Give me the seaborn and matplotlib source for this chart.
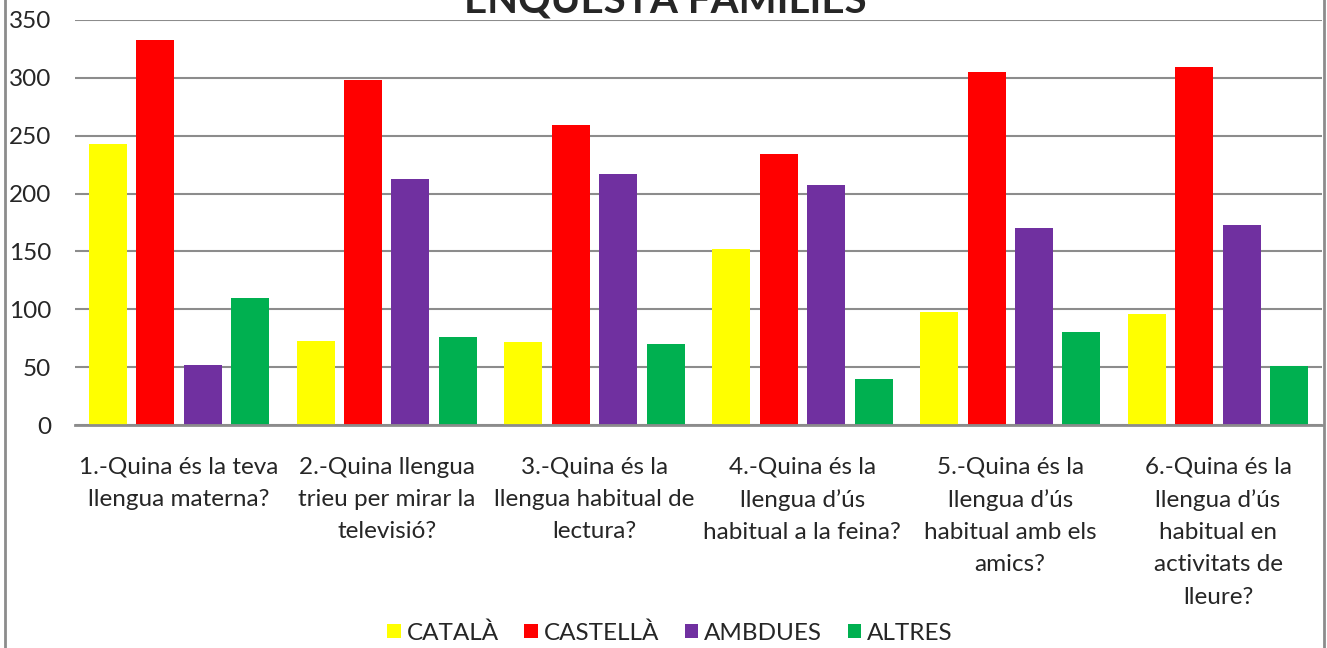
import matplotlib
matplotlib.use('Agg')
import matplotlib.pyplot as plt
from matplotlib.patches import Rectangle
import seaborn as sns
import pandas as pd

# Survey answers per question and language
questions = [
    '1.-Quina és la teva\nllengua materna?',
    '2.-Quina llengua\ntrieu per mirar la\ntelevisió?',
    '3.-Quina és la\nllengua habitual de\nlectura?',
    '4.-Quina és la\nllengua d’ús\nhabitual a la feina?',
    '5.-Quina és la\nllengua d’ús\nhabitual amb els\namics?',
    '6.-Quina és la\nllengua d’ús\nhabitual en\nactivitats de\nlleure?',
]
languages = ['CATALÀ', 'CASTELLÀ', 'AMBDUES', 'ALTRES']
catala = [243, 73, 72, 152, 98, 96]
castella = [333, 298, 259, 234, 305, 309]
ambdues = [52, 213, 217, 207, 170, 173]
altres = [110, 76, 70, 40, 80, 51]
colors = ['#FFFF00', '#FF0000', '#7030A0', '#00B050']

rows = []
for lang, vals in zip(languages, [catala, castella, ambdues, altres]):
    for q, v in zip(questions, vals):
        rows.append({'Pregunta': q, 'Llengua': lang, 'Valor': v})
df = pd.DataFrame(rows)

sns.set_style('white')
plt.rcParams['font.family'] = ['Lato', 'DejaVu Sans']

fig = plt.figure(figsize=(13.27, 6.48), dpi=100)
W, H = 1327, 648
ax = fig.add_axes([75 / W, 1 - 425 / H, (1322 - 75) / W, (425 - 20) / H])

sns.barplot(data=df, x='Pregunta', y='Valor', hue='Llengua', order=questions,
            hue_order=languages, palette=colors, width=0.913, gap=0.2,
            linewidth=0, saturation=1, ax=ax)

ax.set_ylim(0, 350)
ax.set_xlim(-0.5, 5.5)
ax.set_yticks(range(0, 351, 50))
ax.yaxis.grid(True, color='#8c8c8c', linewidth=1.5)
ax.set_axisbelow(True)
for s in ['top', 'right', 'left']:
    ax.spines[s].set_visible(False)
ax.spines['bottom'].set_color('#8c8c8c')
ax.spines['bottom'].set_linewidth(2)
ax.set_xlabel('')
ax.set_ylabel('')
ax.tick_params(axis='y', length=0, pad=17, labelsize=17.5)
ax.tick_params(axis='x', length=0, pad=23, labelsize=17.5)
for lbl in ax.get_xticklabels():
    lbl.set_linespacing(1.65)

ax.legend(loc='center', bbox_to_anchor=(670 / W, 1 - 633 / H),
          bbox_transform=fig.transFigure, ncol=4, frameon=False, fontsize=17.5,
          handlelength=0.55, handleheight=0.55, handletextpad=0.25,
          columnspacing=1.05, borderpad=0)

fig.text(665 / W, 1 - 12 / H, 'ENQUESTA FAMILIES', ha='center', va='baseline',
         fontsize=29, fontweight='bold')

# chart area border (top and bottom cropped)
fig.patches.append(Rectangle((5 / W, -0.1), (1324 - 5) / W, 1.2,
                             transform=fig.transFigure, fill=False,
                             edgecolor='#8c8c8c', linewidth=2))

fig.savefig('out.png', dpi=100)
